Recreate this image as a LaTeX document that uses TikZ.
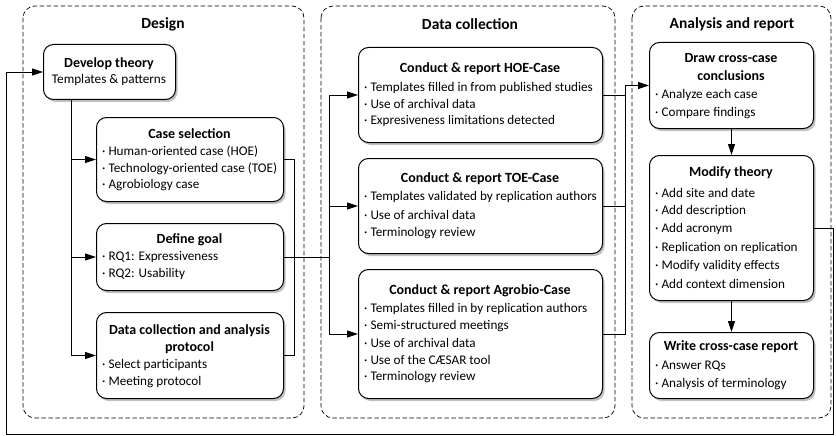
\documentclass[tikz,border=0pt]{standalone}
\usepackage{fontspec}
\setmainfont{Carlito}
\usetikzlibrary{shadows,arrows.meta}
\begin{document}
\begin{tikzpicture}[x=1pt,y=-1pt,
  container/.style={draw, dash pattern=on 4.5pt off 2.5pt, rounded corners=12pt, line width=0.7pt},
  card/.style={draw, rounded corners=10pt, fill=white, line width=1pt, anchor=north west, inner sep=0pt,
     drop shadow={shadow xshift=2pt, shadow yshift=-2.5pt, opacity=0.35, fill=black!70}},
  ctitle/.style={font=\fontsize{15.5}{18}\selectfont\bfseries, inner sep=0pt},
  btitle/.style={font=\fontsize{14}{16}\selectfont\bfseries, inner sep=0pt},
  item/.style={font=\fontsize{13.2}{16}\selectfont, anchor=west, inner sep=0pt},
  sub/.style={font=\fontsize{13.2}{16}\selectfont, inner sep=0pt},
  conn/.style={line width=0.8pt},
  arr/.style={conn, -{Triangle[length=11pt,width=7pt]}}
]
\useasboundingbox (0,0) rectangle (836,436);

% containers
\draw[container] (23,6) rectangle (304,418);
\draw[container] (321,6) rectangle (615,418);
\draw[container] (632,6) rectangle (831,418);
\node[ctitle] (tdesign) at (163,24) {Design};
\node[ctitle] (tdata) at (470,24) {Data collection};
\node[ctitle] (tanal) at (732,24) {Analysis and report};

% boxes
\node[card, minimum width=132pt, minimum height=55pt] (dev) at (43,44) {};
\node[btitle] (devt) at (109,64) {Develop theory};
\node[sub] (devs) at (109,80) {Templates \& patterns};

\node[card, minimum width=187pt, minimum height=84pt] (cs) at (96,117) {};
\node[btitle] (cst) at (189.5,134) {Case selection};
\node[item] (cs1) at (102,152) {· Human-oriented case (HOE)};
\node[item] (cs2) at (102,169) {· Technology-oriented case (TOE)};
\node[item] (cs3) at (102,185) {· Agrobiology case};

\node[card, minimum width=187pt, minimum height=67pt] (goal) at (96,223) {};
\node[btitle] (goalt) at (189.5,240) {Define goal};
\node[item] (g1) at (102,257) {· RQ1: Expressiveness};
\node[item] (g2) at (102,274) {· RQ2: Usability};

\node[card, minimum width=187pt, minimum height=86pt] (prot) at (96,312) {};
\node[btitle] (prott) at (189.5,331) {Data collection and analysis};
\node[btitle] (prott2) at (189.5,348) {protocol};
\node[item] (p1) at (102,365) {· Select participants};
\node[item] (p2) at (102,382) {· Meeting protocol};

\node[card, minimum width=244pt, minimum height=95pt] (hoe) at (358,47) {};
\node[btitle] (hoet) at (480,69) {Conduct \& report HOE-Case};
\node[item] (h1) at (364,88) {· Templates filled in from published studies};
\node[item] (h2) at (364,104) {· Use of archival data};
\node[item] (h3) at (364,121) {· Expresiveness limitations detected};

\node[card, minimum width=244pt, minimum height=95pt] (toe) at (358,158) {};
\node[btitle] (toet) at (480,179) {Conduct \& report TOE-Case};
\node[item] (t1) at (364,197) {· Templates validated by replication authors};
\node[item] (t2) at (364,215) {· Use of archival data};
\node[item] (t3) at (364,233) {· Terminology review};

\node[card, minimum width=244pt, minimum height=129pt] (agro) at (358,269) {};
\node[btitle] (agrot) at (480,291) {Conduct \& report Agrobio-Case};
\node[item] (a1) at (364,309) {· Templates filled in by replication authors};
\node[item] (a2) at (364,326) {· Semi-structured meetings};
\node[item] (a3) at (364,343) {· Use of archival data};
\node[item] (a4) at (364,360) {· Use of the CÆSAR tool};
\node[item] (a5) at (364,377) {· Terminology review};

\node[card, minimum width=164pt, minimum height=86pt] (draw) at (649,42) {};
\node[btitle] (drawt) at (731,58) {Draw cross-case};
\node[btitle] (drawt2) at (731,76) {conclusions};
\node[item] (d1) at (655,95) {· Analyze each case};
\node[item] (d2) at (655,113) {· Compare findings};

\node[card, minimum width=164pt, minimum height=145pt] (mod) at (649,155) {};
\node[btitle] (modt) at (731,173) {Modify theory};
\node[item] (m1) at (655,193) {· Add site and date};
\node[item] (m2) at (655,211) {· Add description};
\node[item] (m3) at (655,229) {· Add acronym};
\node[item] (m4) at (655,248) {· Replication on replication};
\node[item] (m5) at (655,266) {· Modify validity effects};
\node[item] (m6) at (655,284) {· Add context dimension};

\node[card, minimum width=164pt, minimum height=66pt] (write) at (649,332) {};
\node[btitle] (writet) at (731,347) {Write cross-case report};
\node[item] (w1) at (655,366) {· Answer RQs};
\node[item] (w2) at (655,384) {· Analysis of terminology};

% connectors
\coordinate (trunk) at (71,0);
\coordinate (busA) at (294,0);
\coordinate (busB) at (329,257);
\coordinate (busC) at (625,0);
\coordinate (fbR) at (833,434);
\coordinate (fbL) at (6,434);

\draw[arr] (dev.south -| trunk) |- (prot.west);
\draw[arr] (trunk |- cs.west) -- (cs.west);
\draw[arr] (trunk |- goal.west) -- (goal.west);

\draw[conn] (cs.east) -| (busA |- prot.east) -- (prot.east);
\draw[conn] (goal.east) -- (busB);
\draw[arr] (busB) |- (hoe.west);
\draw[arr] (busB) |- (agro.west);
\draw[arr] (busB |- toe.west) -- (toe.west);

\draw[conn] (hoe.east) -- (busC |- hoe.east);
\draw[conn] (toe.east) -- (busC |- toe.east);
\draw[arr] (agro.east) -| (busC |- draw.west) -- (draw.west);

\draw[arr] (draw.south) -- (mod.north);
\draw[arr] (mod.south) -- (write.north);

\draw[arr] (mod.east) -| (fbR) -- (fbL) |- (dev.west);
\end{tikzpicture}
\end{document}
